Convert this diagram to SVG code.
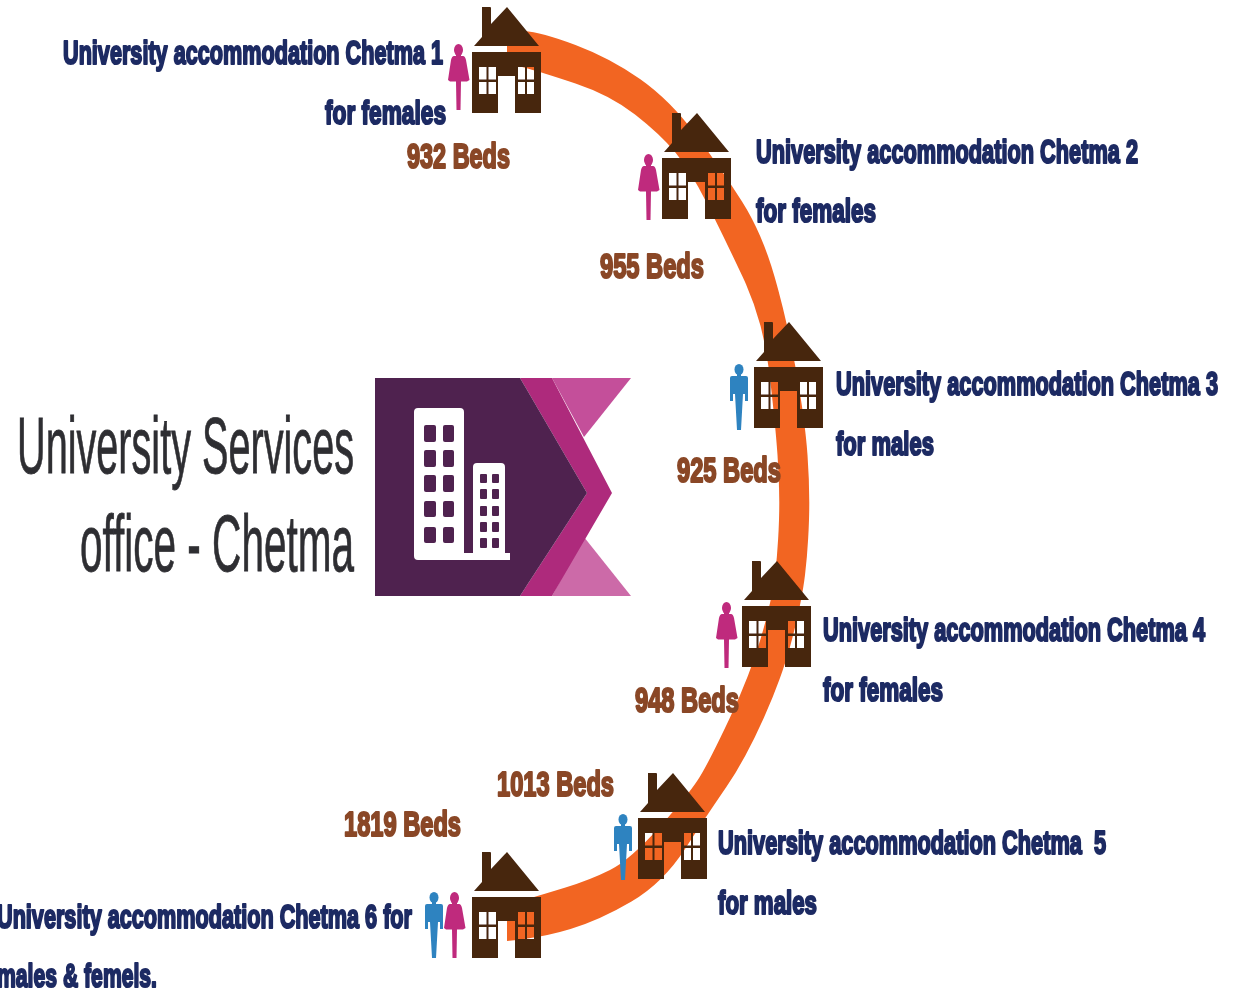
<svg xmlns="http://www.w3.org/2000/svg" width="1241" height="991" viewBox="0 0 1241 991">
<style>
.t{font-family:"Liberation Sans",Arial,sans-serif;font-weight:700;font-size:33px;stroke-width:2.2px;stroke-linejoin:round}
.n{fill:#1f2a63;stroke:#1f2a63}
.b{fill:#8a4726;stroke:#8a4726;font-size:35px}
.h{font-family:"Liberation Sans",Arial,sans-serif;font-size:79px;fill:#2f2f33;stroke:#2f2f33;stroke-width:.8px}
.house{fill:#47250f;fill-rule:evenodd}
.w{fill:#bf2a7d}.m{fill:#2f83c0}
.win{fill:#4f2150}
</style>
<defs>
<filter id="soft" x="-2%" y="-2%" width="104%" height="104%"><feGaussianBlur stdDeviation="0.7"/></filter>
<g id="house">
<path d="M10 0H18Q19 0 19 1V17L35 0L67 39H2L10 30Z"/>
<path d="M0 45H69V106H43V69H26V106H0ZM7 60V72.500H14.500V60ZM16.500 60V72.500H24V60ZM7 75V87H14.500V75ZM16.500 75V87H24V75ZM46 60V72.500H53V60ZM55 60V72.500H62V60ZM46 75V87H53V75ZM55 75V87H62V75Z"/>
</g>
<g id="woman">
<ellipse cx="10.500" cy="6" rx="4.500" ry="6"/>
<path d="M8 10H13V12H15Q17 12 18 16L21.500 36L19 37.500H13L12.500 66H8.500L8 37.500H2L0 36L3 16Q4 12 6 12H8Z"/>
</g>
<g id="man">
<ellipse cx="9" cy="5.500" rx="4.500" ry="5.500"/>
<path d="M7 9H11V12H16Q18 12 18 14V37H15V30H13L11 66H7L5 30H3V37H0V14Q0 12 2 12H7Z"/>
</g>
</defs>
<g filter="url(#soft)">
<g id="connectors">
<path fill="#f26522" d="M507 30L524 31Q541 32 575.500 45Q610 58 640 79Q670 100 696 135Q722 170 742 201.500Q762 233 774.500 276.500Q787 320 796 370Q805 420 807.500 455Q810 490 809 520Q808 550 805 575Q802 600 792.500 637.500Q783 675 764 717.500Q745 760 726 787.500Q707 815 685 849Q663 883 631.500 901.500Q600 920 570.500 929Q541 938 507 941L507 905L524 900Q541 895 565.500 887.500Q590 880 610 870Q630 860 660 826.500Q690 793 700 776.500Q710 760 730 717.500Q750 675 761 637.500Q772 600 775 575Q778 550 779 520Q780 490 777.500 455Q775 420 769 370Q763 320 742.500 276.500Q722 233 706 201.500Q690 170 675 152Q660 134 635 114.500Q610 95 575.500 83.500Q541 72 524 67.500L507 63Z"/>
</g>
<g id="office-title">
<text class="h" x="17" y="473" textLength="337" lengthAdjust="spacingAndGlyphs">University Services</text>
<text class="h" x="80" y="571" textLength="274" lengthAdjust="spacingAndGlyphs">office - Chetma</text>
</g>
<g id="office-banner">
<path d="M552 378H631L584 437Z" fill="#c44f9a"/>
<path d="M552 596H631L584 537Z" fill="#cc6ba8"/>
<path d="M520 378H552L612 493L552 596H520L587 493Z" fill="#ae2c7c"/>
<path d="M375 378H520L587 493L520 596H375Z" fill="#4f2150"/>
<path fill="#fff" d="M418 408H460Q464 408 464 412V553H473V467Q473 463 477 463H501Q505 463 505 467V553H510V560H418Q414 560 414 556V412Q414 408 418 408Z"/>
<rect class="win" x="424" y="425" width="12" height="17" rx="2"/><rect class="win" x="443" y="425" width="11" height="17" rx="2"/>
<rect class="win" x="424" y="450" width="12" height="17" rx="2"/><rect class="win" x="443" y="450" width="11" height="17" rx="2"/>
<rect class="win" x="424" y="475" width="12" height="17" rx="2"/><rect class="win" x="443" y="475" width="11" height="17" rx="2"/>
<rect class="win" x="424" y="501" width="12" height="16" rx="2"/><rect class="win" x="443" y="501" width="11" height="16" rx="2"/>
<rect class="win" x="424" y="527" width="12" height="16" rx="2"/><rect class="win" x="443" y="527" width="11" height="16" rx="2"/>
<rect class="win" x="480" y="474" width="7" height="9" rx="1"/><rect class="win" x="492" y="474" width="7" height="9" rx="1"/>
<rect class="win" x="480" y="489" width="7" height="10" rx="1"/><rect class="win" x="492" y="489" width="7" height="10" rx="1"/>
<rect class="win" x="480" y="506" width="7" height="10" rx="1"/><rect class="win" x="492" y="506" width="7" height="10" rx="1"/>
<rect class="win" x="480" y="522" width="7" height="10" rx="1"/><rect class="win" x="492" y="522" width="7" height="10" rx="1"/>
<rect class="win" x="480" y="538" width="7" height="10" rx="1"/><rect class="win" x="492" y="538" width="7" height="10" rx="1"/>
</g>
<g id="chetma-1">
<use href="#house" class="house" x="472" y="7"/><use href="#woman" class="w" x="448" y="44"/>
<text class="t n" x="63" y="64" textLength="380" lengthAdjust="spacingAndGlyphs">University accommodation Chetma 1</text>
<text class="t n" x="325" y="124" textLength="121" lengthAdjust="spacingAndGlyphs">for females</text>
<text class="t b" x="407" y="168" textLength="103" lengthAdjust="spacingAndGlyphs">932 Beds</text>
</g>
<g id="chetma-2">
<use href="#house" class="house" x="662" y="113"/><use href="#woman" class="w" x="638" y="154"/>
<text class="t n" x="756" y="163" textLength="382" lengthAdjust="spacingAndGlyphs">University accommodation Chetma 2</text>
<text class="t n" x="756" y="222" textLength="120" lengthAdjust="spacingAndGlyphs">for females</text>
<text class="t b" x="600" y="278" textLength="104" lengthAdjust="spacingAndGlyphs">955 Beds</text>
</g>
<g id="chetma-3">
<use href="#house" class="house" x="754" y="322"/><use href="#man" class="m" x="730" y="364"/>
<text class="t n" x="836" y="395" textLength="382" lengthAdjust="spacingAndGlyphs">University accommodation Chetma 3</text>
<text class="t n" x="836" y="455" textLength="98" lengthAdjust="spacingAndGlyphs">for males</text>
<text class="t b" x="677" y="482" textLength="104" lengthAdjust="spacingAndGlyphs">925 Beds</text>
</g>
<g id="chetma-4">
<use href="#house" class="house" x="742" y="561"/><use href="#woman" class="w" x="716" y="602"/>
<text class="t n" x="823" y="641" textLength="382" lengthAdjust="spacingAndGlyphs">University accommodation Chetma 4</text>
<text class="t n" x="823" y="701" textLength="120" lengthAdjust="spacingAndGlyphs">for females</text>
<text class="t b" x="635" y="712" textLength="104" lengthAdjust="spacingAndGlyphs">948 Beds</text>
</g>
<g id="chetma-5">
<use href="#house" class="house" x="638" y="773"/><use href="#man" class="m" x="614" y="814"/>
<text class="t n" x="718" y="854" textLength="388" lengthAdjust="spacingAndGlyphs" xml:space="preserve">University accommodation Chetma  5</text>
<text class="t n" x="718" y="914" textLength="99" lengthAdjust="spacingAndGlyphs">for males</text>
<text class="t b" x="497" y="796" textLength="117" lengthAdjust="spacingAndGlyphs">1013 Beds</text>
</g>
<g id="chetma-6">
<use href="#house" class="house" x="472" y="852"/><use href="#man" class="m" x="425" y="892"/><use href="#woman" class="w" x="444" y="892"/>
<text class="t n" x="-3" y="928" textLength="415" lengthAdjust="spacingAndGlyphs">University accommodation Chetma 6 for</text>
<text class="t n" x="-3" y="987" textLength="160" lengthAdjust="spacingAndGlyphs">males &amp; femels.</text>
<text class="t b" x="344" y="836" textLength="117" lengthAdjust="spacingAndGlyphs">1819 Beds</text>
</g>
</g>
</svg>
